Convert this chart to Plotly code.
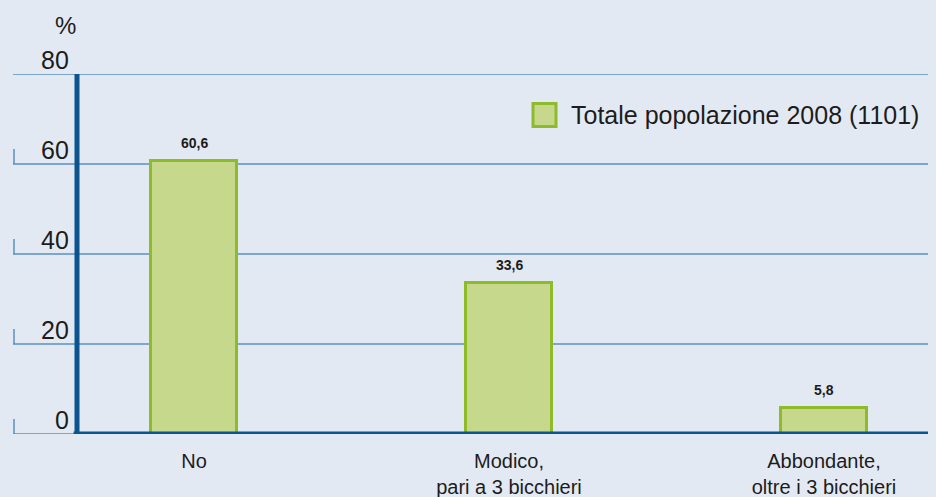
import plotly.graph_objects as go

categories = ["No", "Modico,<br>pari a 3 bicchieri", "Abbondante,<br>oltre i 3 bicchieri"]
values = [60.6, 33.6, 5.8]
series_name = "Totale popolazione 2008 (1101)"
y_ticks = [0, 20, 40, 60, 80]

W, H = 936, 497
ML, MR, MT, MB = 77, 8, 74, 63
PW = W - ML - MR

BG = "#e3e9f3"
FILL = "#c5d88c"
EDGE = "#8dbb2a"
GRID = "#5a8fc0"
AXIS = "#0b5490"
FONT = "Liberation Sans, Arial, sans-serif"
TXT = "#1c1c1c"

def px_x(p):
    return (p - ML) / PW

def px_y(p):
    return (H - MB - p) / (H - MT - MB)

fig = go.Figure()
fig.add_trace(go.Bar(
    x=list(range(len(categories))), y=values, name=series_name,
    width=0.27, marker=dict(color=FILL, line=dict(color=EDGE, width=3)),
    showlegend=False,
))

shapes = []
annotations = []
for t in y_ticks:
    shapes.append(dict(type="line", xref="paper", yref="y", x0=px_x(13), x1=1, y0=t, y1=t,
                       line=dict(color=GRID, width=1.5), layer="below"))
    annotations.append(dict(xref="paper", yref="y", x=px_x(71), y=t, text=str(t),
                            xanchor="right", yanchor="bottom", yshift=-2, showarrow=False,
                            font=dict(family=FONT, size=25, color=TXT)))
    shapes.append(dict(type="line", xref="paper", yref="y", ysizemode="pixel", yanchor=t,
                       x0=px_x(14), x1=px_x(14), y0=0, y1=15,
                       line=dict(color=GRID, width=1.5), layer="below"))

# thick axis lines
shapes.append(dict(type="line", xref="paper", yref="y", x0=0, x1=0, y0=-0.55, y1=80,
                   line=dict(color=AXIS, width=5), layer="above"))
shapes.append(dict(type="line", xref="paper", yref="y", x0=-0.004, x1=1, y0=0, y1=0,
                   line=dict(color=AXIS, width=5), layer="above"))

# data labels
for i, v in enumerate(values):
    annotations.append(dict(x=i, y=v, text="<b>" + f"{v:.1f}".replace(".", ",") + "</b>",
                            xanchor="center", yanchor="bottom", yshift=8, showarrow=False,
                            font=dict(family=FONT, size=14, color=TXT)))

# percent sign
annotations.append(dict(xref="paper", yref="paper", x=px_x(65), y=px_y(25), text="%",
                        xanchor="center", yanchor="middle", showarrow=False,
                        font=dict(family=FONT, size=24, color=TXT)))

# legend (square + label)
shapes.append(dict(type="rect", xref="paper", yref="paper", x0=px_x(533), x1=px_x(556),
                   y0=px_y(103.5), y1=px_y(126.5), fillcolor=FILL, line=dict(color=EDGE, width=3)))
annotations.append(dict(xref="paper", yref="paper", x=px_x(569), y=px_y(115), text=series_name,
                        xanchor="left", yanchor="middle", showarrow=False,
                        font=dict(family=FONT, size=25, color=TXT)))

fig.update_layout(
    width=W, height=H,
    margin=dict(l=ML, r=MR, t=MT, b=MB, pad=0),
    paper_bgcolor=BG, plot_bgcolor=BG,
    shapes=shapes, annotations=annotations,
    xaxis=dict(range=[(ML - 194) / 315, (ML + PW - 194) / 315],
               tickvals=list(range(len(categories))), ticktext=categories,
               tickfont=dict(family=FONT, size=20, color=TXT),
               showgrid=False, zeroline=False, showline=False, ticks="",
               ticklabelstandoff=13, automargin=False),
    yaxis=dict(range=[0, 80], showgrid=False, zeroline=False, showline=False,
               showticklabels=False, ticks="", automargin=False),
    bargap=0,
)

fig.write_html("out.html", config={"displayModeBar": False},
               post_script="document.body.style.margin='0';document.body.style.background='" + BG + "';")
